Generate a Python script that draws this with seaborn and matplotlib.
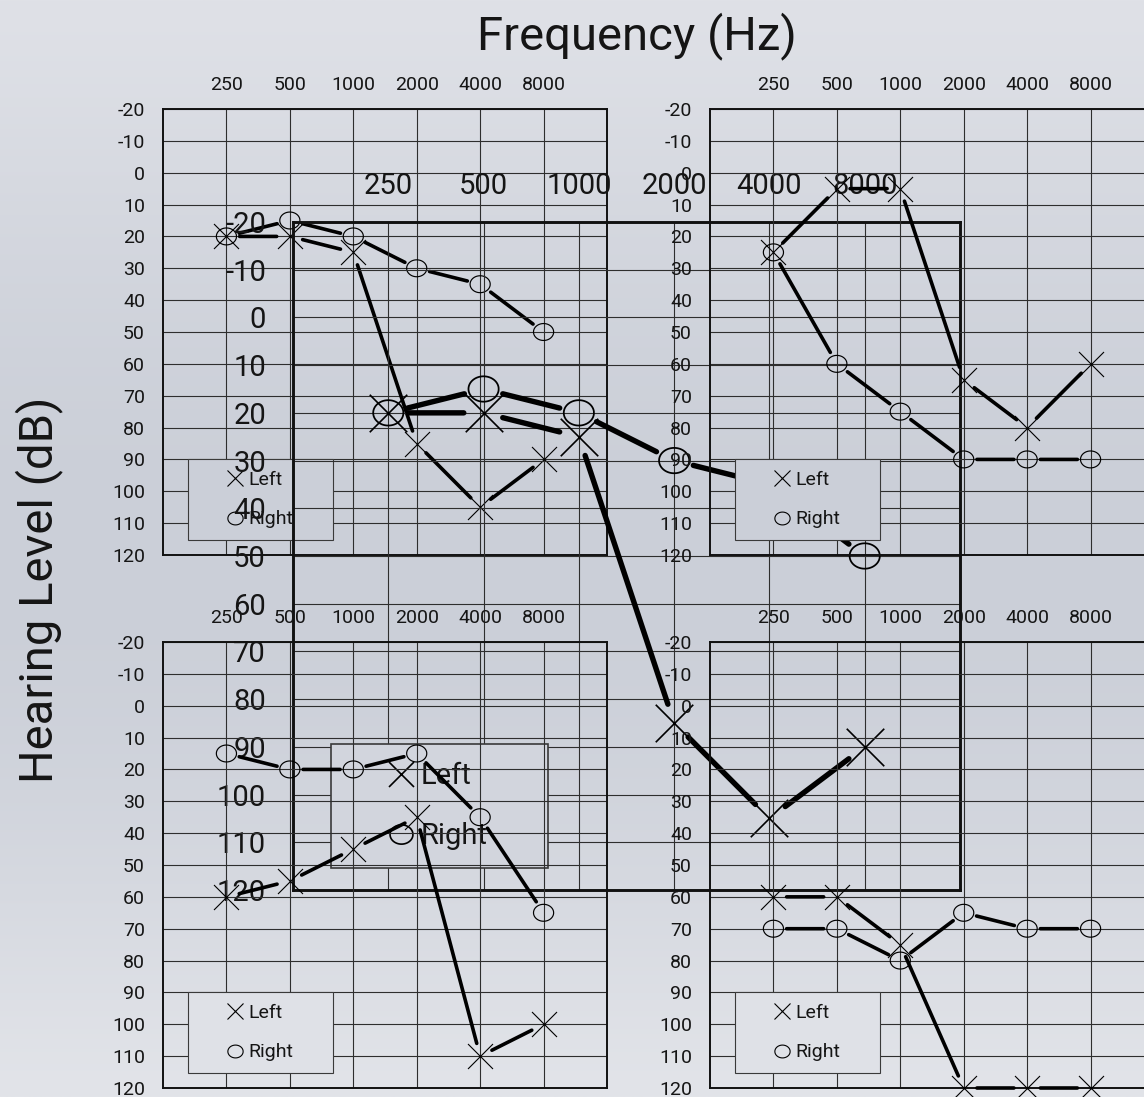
import numpy as np
import pandas as pd
import matplotlib
matplotlib.use("Agg")
import matplotlib.pyplot as plt
from matplotlib.lines import Line2D
import seaborn as sns

# ---- data -------------------------------------------------------------
FREQ_LABELS = ["250", "500", "1000", "2000", "4000", "8000"]
LEVEL_TICKS = list(range(-20, 121, 10))
EAR_LABELS = ["Left", "Right"]

# hearing thresholds in dB HL, one value per frequency
A_LEFT = [20, 20, 25, 85, 105, 90]
A_RIGHT = [20, 15, 20, 30, 35, 50]
B_LEFT = [25, 5, 5, 65, 80, 60]
B_RIGHT = [25, 60, 75, 90, 90, 90]
C_LEFT = [60, 55, 45, 35, 110, 100]
C_RIGHT = [15, 20, 20, 15, 35, 65]
D_LEFT = [60, 60, 75, 120, 120, 120]
D_RIGHT = [70, 70, 80, 65, 70, 70]

# ---- style ------------------------------------------------------------
sns.set_style("white")
plt.rcParams["font.family"] = ["Roboto", "DejaVu Sans"]
plt.rcParams["axes.unicode_minus"] = False

W, H = 1144, 1097
BG_EDGE_TOP = np.array([223, 225, 231]) / 255
BG_EDGE_BOT = np.array([226, 228, 233]) / 255
BG_MID = np.array([203, 207, 216]) / 255


def bg_color(y_px):
    t = y_px / H
    edge = BG_EDGE_TOP + (BG_EDGE_BOT - BG_EDGE_TOP) * t
    w = np.sin(np.pi * t) ** 1.2
    return tuple(edge + (BG_MID - edge) * w)


# slightly flattened ring used for the right-ear symbol
_t = np.linspace(0, 2 * np.pi, 60)
RING = np.column_stack([np.cos(_t), 0.84 * np.sin(_t)])


def px_rect(x0, y0, x1, y1):
    return [x0 / W, 1 - y1 / H, (x1 - x0) / W, (y1 - y0) / H]


def audiogram(ax, left, right, k):
    df = pd.DataFrame({"pos": np.arange(1, len(FREQ_LABELS) + 1),
                       "Left": left, "Right": right})

    # connecting segments, pulled back from the symbols
    for ear in EAR_LABELS:
        vals = df[ear].to_numpy()
        pos = df["pos"].to_numpy()
        for i in range(len(vals) - 1):
            ax.annotate("", xy=(pos[i + 1], vals[i + 1]), xytext=(pos[i], vals[i]),
                        xycoords="data", annotation_clip=False,
                        arrowprops=dict(arrowstyle="-", color="black", lw=2.6 * k,
                                        shrinkA=9.5 * k, shrinkB=9.5 * k))

    sns.scatterplot(data=df, x="pos", y="Left", marker="x", s=(18 * k) ** 2,
                    color="black", linewidth=0.8 * k, ax=ax, legend=False,
                    clip_on=False, zorder=4)
    sns.scatterplot(data=df, x="pos", y="Right", marker=RING, s=(14.5 * k) ** 2,
                    color="none", edgecolor="black", linewidth=0.85 * k, ax=ax,
                    legend=False, clip_on=False, zorder=4)

    ax.set_xlim(0, len(FREQ_LABELS) + 1)
    ax.set_ylim(120, -20)
    ax.set_xticks(df["pos"])
    ax.set_xticklabels(FREQ_LABELS)
    ax.set_yticks(LEVEL_TICKS)
    ax.set_yticklabels([str(v) for v in LEVEL_TICKS])
    ax.xaxis.tick_top()
    ax.set_xlabel("")
    ax.set_ylabel("")
    ax.tick_params(length=0, labelsize=14 * k, colors="#151515")
    ax.tick_params(axis="x", pad=10.5 * k)
    ax.tick_params(axis="y", pad=13 * k)
    ax.grid(True, color="#2e2e2e", lw=0.8)
    ax.set_facecolor("none")
    for sp in ax.spines.values():
        sp.set_visible(True)
        sp.set_color("#111111")
        sp.set_linewidth(1.4 * k)

    handles = [
        Line2D([], [], ls="none", marker="x", color="black",
               markersize=12 * k, markeredgewidth=0.8 * k),
        Line2D([], [], ls="none", marker=RING, markerfacecolor="none",
               markeredgecolor="black", markersize=11 * k, markeredgewidth=0.8 * k),
    ]
    bbox = ax.get_position()
    leg_center_y = H * (1 - (bbox.y0 + 0.12 * bbox.height))
    leg = ax.legend(handles, EAR_LABELS, loc="lower left",
                    bbox_to_anchor=(0.0563, 0.0336, 0.3266, 0.25), mode="expand",
                    borderaxespad=0, borderpad=0.6, labelspacing=1.1,
                    handlelength=3.6, handletextpad=-1.12, fontsize=14 * k,
                    frameon=True, fancybox=False, framealpha=1,
                    facecolor=bg_color(leg_center_y), edgecolor="#3a3a3a")
    leg.get_frame().set_linewidth(0.8 * k)
    for txt in leg.get_texts():
        txt.set_color("#151515")


fig = plt.figure(figsize=(W / 100, H / 100), dpi=100)

# soft vertical gradient behind everything
bg_ax = fig.add_axes([0, 0, 1, 1])
rows = np.array([bg_color(y) for y in np.linspace(0, H, 400)])
bg_ax.imshow(np.repeat(rows[:, None, :], 2, axis=1), aspect="auto",
             extent=[0, 1, 0, 1], interpolation="bilinear")
bg_ax.set_axis_off()

ax_a = fig.add_axes(px_rect(163, 109, 607, 555))
audiogram(ax_a, A_LEFT, A_RIGHT, 1.0)

ax_big = fig.add_axes(px_rect(293, 222, 960, 890))
audiogram(ax_big, A_LEFT, A_RIGHT, 1.5)

ax_c = fig.add_axes(px_rect(163, 642, 607, 1088))
audiogram(ax_c, C_LEFT, C_RIGHT, 1.0)

ax_b = fig.add_axes(px_rect(710, 109, 1154, 555))
audiogram(ax_b, B_LEFT, B_RIGHT, 1.0)

ax_d = fig.add_axes(px_rect(710, 642, 1154, 1088))
audiogram(ax_d, D_LEFT, D_RIGHT, 1.0)

fig.text(637 / W, 1 - 36 / H, "Frequency (Hz)", ha="center", va="center",
         fontsize=34, color="#151515")
fig.text(39 / W, 1 - 590 / H, "Hearing Level (dB)", ha="center", va="center",
         rotation=90, fontsize=34, color="#151515")

fig.savefig("out.png", dpi=100)
